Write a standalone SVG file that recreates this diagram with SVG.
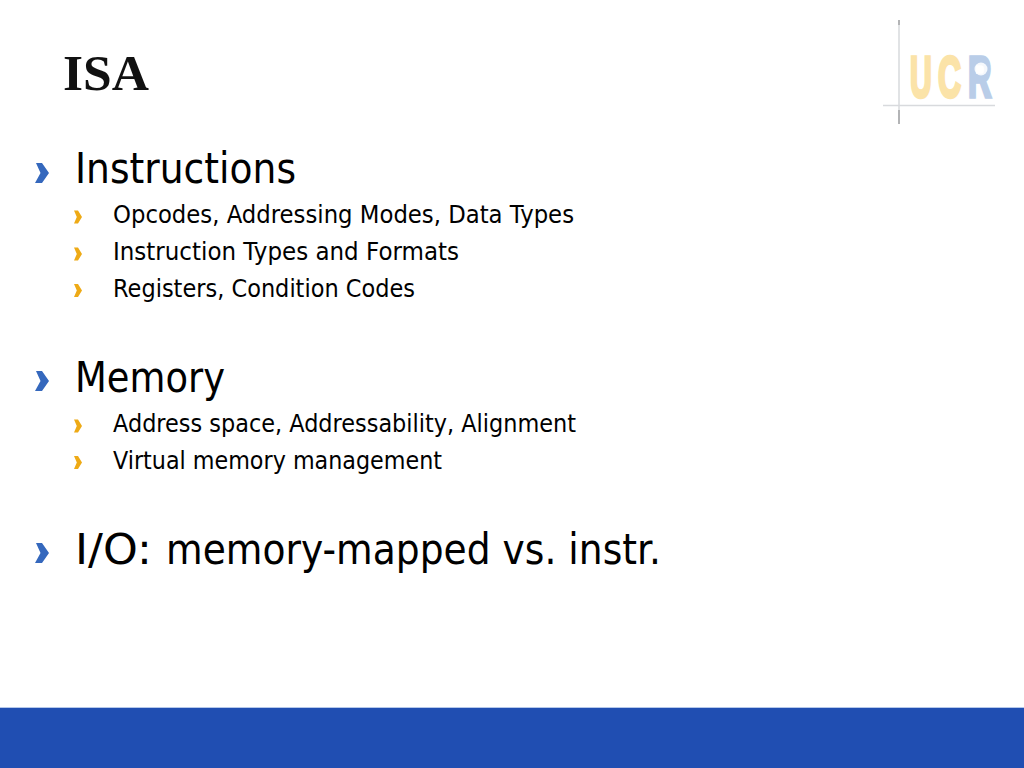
<svg xmlns="http://www.w3.org/2000/svg" width="1024" height="768" viewBox="0 0 1024 768">
<defs>
<style>
.t{font-family:"DejaVu Sans","Noto Sans",sans-serif;fill:#000}
.l1{font-size:42px}
.l2{font-size:25px}
.logo{font-family:"Liberation Sans",sans-serif;font-weight:bold;font-size:58px;stroke-width:3.500px}
.uc{fill:#fbe3a8;stroke:#fbe3a8}
.r{fill:#b9cde8;stroke:#b9cde8}
</style>
<path id="big" d="M-6-10H0L7 0L0 10H-7L-1.500 0Z" fill="#3568bd"/>
<path id="small" d="M-4-6.500H0L4 0L0 6.500H-4L-1.200 0Z" fill="#eeaa16"/>
</defs>
<rect width="1024" height="768" fill="#fff"/>
<g id="logo">
<path d="M899 25V110M883 105.500H995" stroke="#d8dadd" stroke-width="1.500" fill="none"/>
<path d="M899 20V25M899 110V124" stroke="#9a9c9e" stroke-width="1.500" fill="none"/>
<text class="logo uc" transform="translate(910 97) scale(.52 1)">U</text>
<text class="logo uc" transform="translate(938 97) scale(.55 1)">C</text>
<text class="logo r" transform="translate(968 97) scale(.56 1)">R</text>
<circle cx="981" cy="69" r="6.500" fill="#fff" opacity=".85"/>
</g>
<g id="title"><text x="63" y="90" font-family="Liberation Serif,serif" font-weight="bold" font-size="51" fill="#111" textLength="86" lengthAdjust="spacingAndGlyphs">ISA</text></g>
<g id="instructions">
<use href="#big" x="42" y="173"/>
<text class="t l1" x="75" y="182.500" textLength="221" lengthAdjust="spacingAndGlyphs">Instructions</text>
<use href="#small" x="78" y="217"/>
<text class="t l2" x="113" y="223" textLength="461" lengthAdjust="spacingAndGlyphs">Opcodes, Addressing Modes, Data Types</text>
<use href="#small" x="78" y="254"/>
<text class="t l2" x="113" y="260" textLength="346" lengthAdjust="spacingAndGlyphs">Instruction Types and Formats</text>
<use href="#small" x="78" y="290.500"/>
<text class="t l2" x="113" y="297" textLength="302" lengthAdjust="spacingAndGlyphs">Registers, Condition Codes</text>
</g>
<g id="memory">
<use href="#big" x="42" y="381"/>
<text class="t l1" x="75" y="391.500" textLength="150" lengthAdjust="spacingAndGlyphs">Memory</text>
<use href="#small" x="78" y="426"/>
<text class="t l2" x="113" y="432" textLength="463" lengthAdjust="spacingAndGlyphs">Address space, Addressability, Alignment</text>
<use href="#small" x="78" y="462.500"/>
<text class="t l2" x="113" y="469" textLength="329" lengthAdjust="spacingAndGlyphs">Virtual memory management</text>
</g>
<g id="io">
<use href="#big" x="42" y="553"/>
<text class="t l1" x="75" y="563.500"><tspan textLength="91" lengthAdjust="spacingAndGlyphs">I/O: </tspan><tspan x="166" textLength="495" lengthAdjust="spacingAndGlyphs">memory-mapped vs. instr.</tspan></text>
</g>
<g id="footer">
<rect x="0" y="708" width="1024" height="60" fill="#204eb2"/>
<rect x="0" y="707" width="1024" height="1" fill="#b5c8ea"/>
</g>
</svg>
